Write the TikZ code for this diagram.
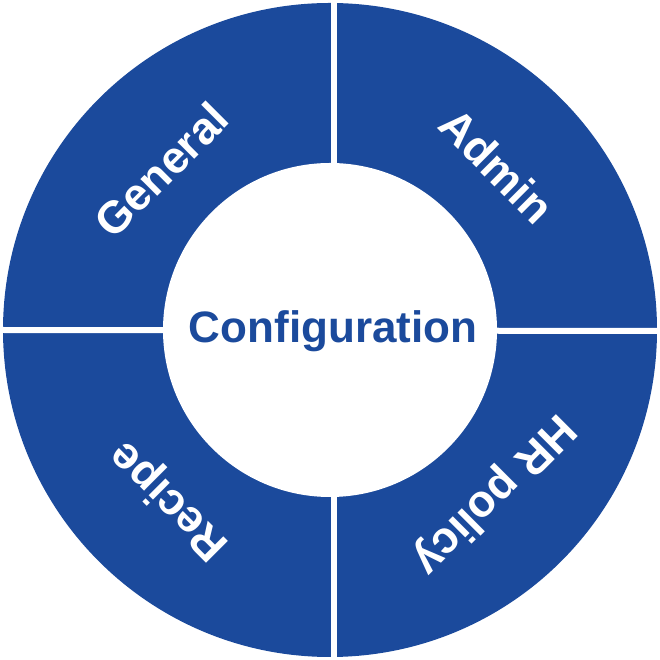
\documentclass[tikz,border=0pt]{standalone}
\usepackage{fontspec}
\setmainfont{Liberation Sans}
\definecolor{ringblue}{HTML}{1B4A9C}
\begin{document}
\begin{tikzpicture}[x=1pt,y=1pt,
  seglabel/.style={text=white,font=\bfseries\fontsize{45}{45}\selectfont,anchor=center,inner sep=0pt},
  gapline/.style={white,line width=6pt}]
\useasboundingbox (0,0) rectangle (659,660);
\coordinate (c) at (330,330);
\fill[ringblue] (c) circle[radius=327];
\fill[white] (c) circle[radius=167];
\draw[gapline] (333.7,0) -- (333.7,660);
\draw[gapline] (0,330) -- (659,329);
\node[text=ringblue,font=\bfseries\fontsize{44}{44}\selectfont,inner sep=0pt] (conf) at (333,329) {Configuration};
\node[seglabel,rotate=45] (gen) at (161,490) {General};
\node[seglabel,rotate=-45] (adm) at (497,494) {Admin};
\node[seglabel,rotate=-135] (hr) at (493,166) {HR policy};
\node[seglabel,rotate=135] (rec) at (170,160) {Recipe};
\end{tikzpicture}
\end{document}
